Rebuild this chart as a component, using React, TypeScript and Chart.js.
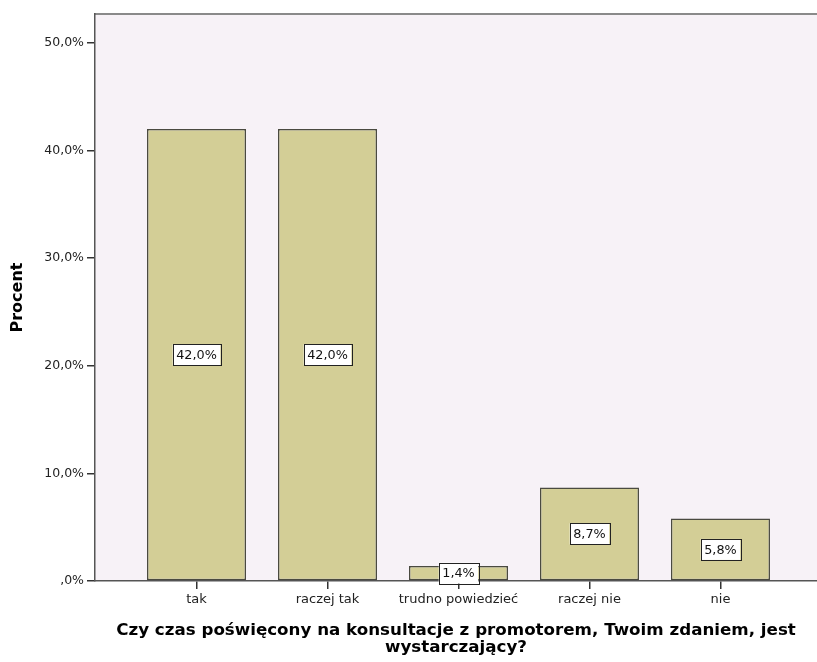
import React, { useEffect, useRef } from "react";
import { Chart, registerables } from "chart.js";

Chart.register(...registerables);

const categories = ["tak", "raczej tak", "trudno powiedzieć", "raczej nie", "nie"];
const percentValues = [42.0, 42.0, 1.4, 8.7, 5.8];
const yTickValues = [0, 10, 20, 30, 40, 50];
const xTitleLines = ["Czy czas poświęcony na konsultacje z promotorem, Twoim zdaniem, jest", "wystarczający?"];
const yTitle = "Procent";

const fmtPct = (v: number) => {
  let s = v.toFixed(1).replace(".", ",");
  if (s.startsWith("0,")) s = s.slice(1);
  return s + "%";
};

const FONT = "'DejaVu Sans', sans-serif";

const bgPlugin = {
  id: "bgPlugin",
  beforeDraw(chart: any) {
    const { ctx, chartArea } = chart;
    ctx.save();
    ctx.fillStyle = "#F7F2F7";
    ctx.fillRect(chartArea.left, chartArea.top, chartArea.right - chartArea.left, chartArea.bottom - chartArea.top);
    ctx.strokeStyle = "#8a8a8a";
    ctx.lineWidth = 2;
    ctx.beginPath();
    ctx.moveTo(chartArea.left, chartArea.top);
    ctx.lineTo(chartArea.right, chartArea.top);
    ctx.stroke();
    ctx.restore();
  },
};

const labelPlugin = {
  id: "labelPlugin",
  afterDatasetsDraw(chart: any) {
    const { ctx } = chart;
    const meta = chart.getDatasetMeta(0);
    ctx.save();
    ctx.font = `12.8px ${FONT}`;
    ctx.textAlign = "center";
    ctx.textBaseline = "middle";
    meta.data.forEach((bar: any, i: number) => {
      const text = fmtPct(percentValues[i]);
      const cx = bar.x;
      const cy = (bar.y + bar.base) / 2;
      const w = ctx.measureText(text).width + 7;
      const h = 21;
      ctx.fillStyle = "#ffffff";
      ctx.fillRect(cx - w / 2, cy - h / 2, w, h);
      ctx.strokeStyle = "#222";
      ctx.lineWidth = 1;
      ctx.strokeRect(Math.round(cx - w / 2) + 0.5, Math.round(cy - h / 2) + 0.5, Math.round(w), h);
      ctx.fillStyle = "#111";
      ctx.fillText(text, cx, cy + 1);
    });
    ctx.restore();
  },
};

export default function App() {
  const ref = useRef<HTMLCanvasElement | null>(null);
  useEffect(() => {
    if (!ref.current) return;
    const chart = new Chart(ref.current, {
      type: "bar",
      data: {
        datasets: [
          {
            data: percentValues.map((v, i) => ({ x: i, y: v })),
            backgroundColor: "#D3CE96",
            borderColor: "#4a4a40",
            borderWidth: 1.5,
            borderSkipped: false,
            categoryPercentage: 1,
            barPercentage: 0.756,
          },
        ],
      },
      options: {
        animation: false,
        responsive: false,
        devicePixelRatio: 1,
        layout: { padding: { top: 14, right: 0, left: 0, bottom: 0 } },
        plugins: { legend: { display: false }, tooltip: { enabled: false } },
        scales: {
          x: {
            type: "linear",
            offset: false,
            min: -0.775,
            max: 4.737,
            afterBuildTicks: (scale: any) => {
              scale.ticks = categories.map((_, i) => ({ value: i }));
            },
            afterFit: (scale: any) => {
              scale.height = 81;
            },
            ticks: {
              callback: (v: any) => categories[Math.round(Number(v))] ?? "",
              color: "#222",
              font: { family: FONT, size: 13 },
              padding: 3,
              maxRotation: 0,
              autoSkip: false,
            },
            grid: {
              display: true,
              offset: false,
              drawOnChartArea: false,
              drawTicks: true,
              tickLength: 8,
              color: "#333",
              lineWidth: 1.5,
            },
            border: { display: true, color: "#555", width: 1.5 },
            title: {
              display: true,
              text: xTitleLines,
              color: "#000",
              font: { family: FONT, size: 16.7, weight: "bold", lineHeight: 1.02 },
              padding: { top: 0, bottom: 6 },
            },
          },
          y: {
            type: "linear",
            min: 0,
            max: 52.7,
            afterBuildTicks: (scale: any) => {
              scale.ticks = yTickValues.map((v) => ({ value: v }));
            },
            afterFit: (scale: any) => {
              scale.width = 95;
            },
            ticks: {
              callback: (v: any) => fmtPct(Number(v)),
              color: "#222",
              font: { family: FONT, size: 12.5 },
              padding: 3,
            },
            grid: {
              display: true,
              drawOnChartArea: false,
              drawTicks: true,
              tickLength: 8,
              color: "#333",
              lineWidth: 1.5,
            },
            border: { display: true, color: "#555", width: 1.5 },
            title: {
              display: true,
              text: yTitle,
              color: "#000",
              font: { family: FONT, size: 16, weight: "bold", lineHeight: 1.2 },
              padding: { top: 8.5, bottom: 0 },
            },
          },
        },
      },
      plugins: [bgPlugin, labelPlugin],
    } as any);
    return () => chart.destroy();
  }, []);
  return (
    <div style={{ position: "fixed", left: 0, top: 0, width: 817, height: 662, background: "#fff" }}>
      <canvas ref={ref} width={817} height={662} style={{ width: 817, height: 662 }} />
    </div>
  );
}
